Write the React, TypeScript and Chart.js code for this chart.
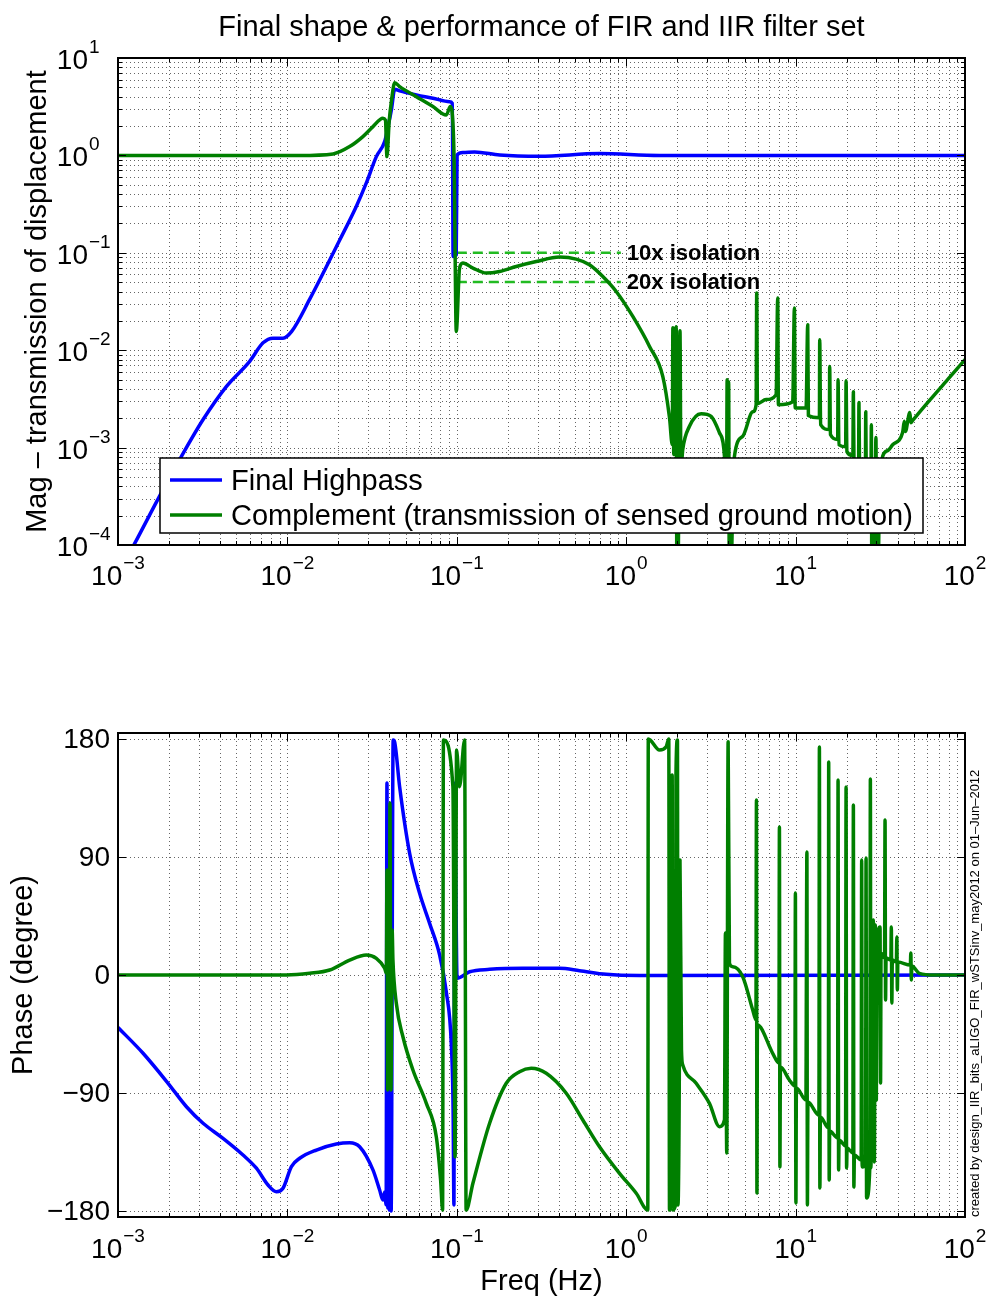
import React, { useEffect, useRef } from 'react';
import { Chart, registerables } from 'chart.js';

Chart.register(...registerables);

const FONT = '"Liberation Sans", Arial, Helvetica, sans-serif';

// ---------- Axis definitions ----------
const xDecades = [-3, -2, -1, 0, 1, 2];
const magDecades = [-4, -3, -2, -1, 0, 1];
const phaseTicks = [-180, -90, 0, 90, 180];
const phaseTickLabels = ['\u2212180', '\u221290', '0', '90', '180'];

// ---------- Magnitude: Final Highpass ----------
const hpMagFreq = [0.001, 0.00126, 0.00176, 0.00237, 0.00318, 0.00437, 0.00599, 0.00718, 0.00822, 0.00942, 0.0106, 0.0135, 0.0204, 0.0255, 0.0292, 0.0335, 0.0375, 0.0391, 0.0411, 0.043, 0.046, 0.0577, 0.0723, 0.0907, 0.0941, 0.0951, 0.0992, 0.1004, 0.1086, 0.1274, 0.179, 0.308, 0.696, 1.57, 100];
const hpMagVal = [5.0e-5, 1.05e-4, 3.17e-4, 8.14e-4, 1.94e-3, 4.25e-3, 7.68e-3, 1.19e-2, 1.33e-2, 1.33e-2, 1.56e-2, 3.3e-2, 0.136, 0.299, 0.519, 0.972, 1.385, 1.91, 2.93, 4.78, 4.59, 4.17, 3.86, 3.56, 3.43, 0.0917, 0.095, 1.01, 1.068, 1.086, 1.01, 0.98, 1.045, 1.0, 1.0];

// ---------- Magnitude: Complement ----------
const compMagFreq = [0.001, 0.0118, 0.0186, 0.0233, 0.0279, 0.032, 0.0366, 0.0379, 0.0387, 0.0399, 0.0412, 0.043, 0.046, 0.0577, 0.0723, 0.0867, 0.0916, 0.0938, 0.0964, 0.0993, 0.1038, 0.1086, 0.1245, 0.1493, 0.1789, 0.2244, 0.2944, 0.4042, 0.5069, 0.6074, 0.7278, 0.873, 1.094, 1.373, 1.644, 1.801, 1.871, 1.886, 1.909, 1.959, 1.975, 1.994, 2.049, 2.077, 2.105, 2.157, 2.363, 2.77, 3.173, 3.551, 3.802, 3.906, 3.944, 3.976, 4.025, 4.069, 4.238, 4.355, 4.875, 5.584, 5.848, 5.895, 5.951, 6.698, 7.674, 7.842, 7.916, 9.614, 9.838, 9.946, 11.53, 11.79, 11.9, 13.82, 13.88, 14.05, 15.83, 15.89, 16.05, 17.72, 17.81, 18.01, 19.75, 19.86, 20.08, 21.78, 21.93, 22.11, 23.54, 23.66, 23.86, 25.81, 25.95, 26.17, 27.81, 28.0, 28.23, 29.16, 29.8, 30.17, 31.2, 32.66, 34.95, 37.41, 42.83, 43.84, 44.44, 47.24, 47.89, 49.0, 61.56, 80.81, 100];
const compMagVal = [1.0, 1.0, 1.036, 1.231, 1.559, 1.974, 2.407, 2.312, 0.972, 2.258, 3.71, 5.58, 5.08, 4.01, 3.17, 2.6, 3.17, 2.79, 0.899, 0.0156, 0.0697, 0.0784, 0.0697, 0.0619, 0.0643, 0.0724, 0.0814, 0.0904, 0.0862, 0.0753, 0.0571, 0.0401, 0.0222, 0.01094, 0.00538, 0.00203, 0.00107, 0.017, 0.00085, 0.0162, 0.0174, 1e-5, 4.7e-4, 0.0158, 5.94e-4, 9.54e-4, 1.654e-3, 2.23e-3, 2.09e-3, 1.42e-3, 8.15e-4, 1.83e-4, 4.98e-3, 1.83e-4, 4.75e-3, 1e-5, 1.83e-4, 8.15e-4, 1.306e-3, 2.33e-3, 2.76e-3, 0.0386, 2.82e-3, 3.11e-3, 3.5e-3, 0.0343, 2.76e-3, 2.96e-3, 0.0271, 2.55e-3, 2.55e-3, 0.0183, 2.13e-3, 2.02e-3, 0.0128, 1.72e-3, 1.53e-3, 6.82e-3, 1.36e-3, 1.21e-3, 4.98e-3, 1.07e-3, 1.02e-3, 4.86e-3, 9.1e-4, 8.3e-4, 3.75e-3, 7.5e-4, 6.7e-4, 2.9e-3, 5.9e-4, 4.7e-4, 2.34e-3, 3.7e-4, 2.93e-4, 1.72e-3, 1e-5, 1e-5, 1.27e-3, 1e-5, 2.31e-4, 8.15e-4, 9.3e-4, 1.07e-3, 1.43e-3, 1.86e-3, 1.46e-3, 2.29e-3, 1.8e-3, 1.89e-3, 3.03e-3, 5.22e-3, 8.0e-3];

// ---------- Isolation reference lines ----------
const isoFreq = [0.1, 0.93];
const iso10Val = [0.1, 0.1];
const iso20Val = [0.05, 0.05];
const isoLabels = ['10x isolation', '20x isolation'];

// ---------- Phase: Final Highpass ----------
const hpPhaseFreq = [0.001, 0.001406, 0.001975, 0.002536, 0.003177, 0.004169, 0.00547, 0.006563, 0.007686, 0.008612, 0.009419, 0.01056, 0.01182, 0.01483, 0.01945, 0.02332, 0.0267, 0.03199, 0.03503, 0.03664, 0.0375, 0.03828, 0.0387, 0.03917, 0.0396, 0.03999, 0.04042, 0.04097, 0.0421, 0.04295, 0.04598, 0.05267, 0.06033, 0.06911, 0.07916, 0.0867, 0.09283, 0.09511, 0.09617, 0.09705, 0.1004, 0.119, 0.1562, 0.2455, 0.4042, 0.5303, 0.7621, 1.198, 100];
const hpPhaseVal = [-40, -59.7, -82.6, -100.5, -113.1, -124.6, -137.3, -147.4, -160.2, -165.3, -162.7, -146.2, -139.8, -133.5, -128.9, -127.9, -131, -148.7, -164, -171.6, -165.5, -175.4, 146.5, -177.7, -87.7, -179.3, -95.3, -180, 179.2, 177.7, 143.6, 92.8, 62.3, 39.4, 15.3, -13, -53.4, -103, -175.4, 146.2, -2.5, 2.5, 4.3, 5.1, 5.1, 3.3, 0.5, -0.4, 0];

// ---------- Phase: Complement ----------
const compPhaseFreq = [0.001, 0.00986, 0.01354, 0.01777, 0.02332, 0.02926, 0.0335, 0.0375, 0.03839, 0.0387, 0.03906, 0.0396, 0.03999, 0.04031, 0.04086, 0.04153, 0.04198, 0.04395, 0.04808, 0.05508, 0.06609, 0.07568, 0.08025, 0.08245, 0.08337, 0.09485, 0.09772, 0.0997, 0.1038, 0.1112, 0.1135, 0.1245, 0.1562, 0.1959, 0.2347, 0.2751, 0.3373, 0.4426, 0.5546, 0.6957, 0.9131, 1.146, 1.341, 1.35, 1.572, 1.722, 1.784, 1.801, 1.868, 1.883, 1.954, 1.967, 2.007, 2.021, 2.063, 2.077, 2.12, 2.157, 2.588, 3.1, 3.551, 3.802, 3.853, 3.922, 3.997, 4.069, 4.256, 4.875, 5.584, 5.833, 5.873, 5.913, 5.951, 7.326, 7.971, 8.025, 8.08, 8.135, 9.192, 9.906, 9.973, 10.04, 10.11, 11.5, 11.66, 11.74, 11.82, 13.73, 13.82, 13.91, 14.0, 15.62, 15.68, 15.79, 15.89, 17.7, 17.81, 17.94, 18.06, 19.72, 19.86, 20.0, 20.13, 21.78, 21.93, 22.08, 22.24, 24.38, 24.55, 24.71, 25.88, 26.06, 26.24, 27.44, 27.63, 27.81, 28.77, 29.16, 29.56, 29.96, 30.25, 31.51, 31.73, 31.95, 33.5, 33.73, 33.96, 34.2, 36.49, 36.74, 36.99, 37.24, 39.33, 39.6, 39.87, 40.14, 47.57, 47.89, 48.22, 48.55, 53.77, 66.0, 100];
const compPhaseVal = [0, 0, 1.3, 3.8, 11.4, 15.3, 12.7, 5.1, 1.3, 80, -87.7, 72.5, -83.9, 131.2, -87.7, 34.3, 11.4, -21.6, -47.1, -72.5, -97.9, -123.3, -156.4, -179.3, 179.3, 143.6, -138.8, 171.6, 143.6, 179.3, -179.3, -158.9, -113.1, -82.6, -73.8, -71.2, -75, -90.2, -110.6, -131, -151.3, -166.5, -179.3, 180, 171.6, 174.1, 180, -179.3, 152.6, -179.3, -175.4, 152.6, 179.3, -175.4, -49.6, 87.7, -57.2, -68.6, -82.6, -97.9, -115.7, -110.6, 32, -135.8, 178, 8.9, 6.3, -1.3, -26.7, -34.3, 133.5, -166.3, -38.1, -59.7, -67.1, 112.9, -146.5, -70.2, -80.1, -84.7, 62.5, -173.9, -86.2, -95.3, 93.8, -175.4, -96.9, -106.8, 173.9, -162.5, -108.3, -116.7, 162.5, -156.4, -119, -124.3, 148.7, -148.7, -125.9, -130.4, 143.4, -147.2, -132, -135.8, 129.7, -161.7, -137.3, -141.1, 87.7, -146.5, -144.9, 89.2, -170.1, -145.7, 149.5, -147.2, 42, -142.6, 38.1, -95.3, 19.1, 36.6, -82.4, 16.8, 13, 118.2, -19.1, 13, 11.4, 36.6, -21.4, 11.4, 9.9, 29, -11.4, 9.9, 7.6, 16.8, -3.8, 6.9, 1.3, 0, 0];

// ---------- Texts ----------
const titleText = 'Final shape & performance of FIR and IIR filter set';
const magAxisTitle = 'Mag \u2013 transmission of displacement';
const phaseAxisTitle = 'Phase (degree)';
const freqAxisTitle = 'Freq (Hz)';
const legendLabels = ['Final Highpass', 'Complement (transmission of sensed ground motion)'];
const creditText = 'created by design_IIR_bits_aLIGO_FIR_wSTSinv_may2012 on 01\u2013Jun\u20132012';

const BLUE = '#0000ff';
const GREEN = '#007f00';
const LIGHT_GREEN = '#22bb22';
const GRID_COLOR = 'rgba(0,0,0,0.6)';

const pts = (fs: number[], vs: number[]) => fs.map((f, i) => ({ x: f, y: vs[i] }));

function logTickList(decs: number[]) {
  const out: { v: number; major: boolean }[] = [];
  for (let i = 0; i < decs.length - 1; i++) {
    for (let m = 1; m < 10; m++) out.push({ v: m * Math.pow(10, decs[i]), major: m === 1 });
  }
  out.push({ v: Math.pow(10, decs[decs.length - 1]), major: true });
  return out;
}

const expStr = (e: number) => (e < 0 ? '\u2212' + String(-e) : String(e));

function drawGrid(ctx: CanvasRenderingContext2D, a: any, xs: any, ys: any, xv: number[], yv: number[]) {
  ctx.save();
  ctx.strokeStyle = GRID_COLOR;
  ctx.lineWidth = 1;
  ctx.setLineDash([1, 3]);
  for (const v of xv) {
    const p = Math.round(xs.getPixelForValue(v)) + 0.5;
    if (p <= a.left + 1 || p >= a.right - 1) continue;
    ctx.beginPath();
    ctx.moveTo(p, a.top);
    ctx.lineTo(p, a.bottom);
    ctx.stroke();
  }
  for (const v of yv) {
    const p = Math.round(ys.getPixelForValue(v)) + 0.5;
    if (p <= a.top + 1 || p >= a.bottom - 1) continue;
    ctx.beginPath();
    ctx.moveTo(a.left, p);
    ctx.lineTo(a.right, p);
    ctx.stroke();
  }
  ctx.restore();
}

function drawTicksAndBox(ctx: CanvasRenderingContext2D, a: any, xs: any, ys: any, xt: { v: number; major: boolean }[], yt: { v: number; major: boolean }[]) {
  ctx.save();
  ctx.strokeStyle = '#000';
  ctx.lineWidth = 1;
  ctx.beginPath();
  for (const t of xt) {
    const p = Math.round(xs.getPixelForValue(t.v)) + 0.5;
    const L = t.major ? 8 : 4;
    ctx.moveTo(p, a.bottom);
    ctx.lineTo(p, a.bottom - L);
    ctx.moveTo(p, a.top);
    ctx.lineTo(p, a.top + L);
  }
  for (const t of yt) {
    const p = Math.round(ys.getPixelForValue(t.v)) + 0.5;
    const L = t.major ? 8 : 4;
    ctx.moveTo(a.left, p);
    ctx.lineTo(a.left + L, p);
    ctx.moveTo(a.right, p);
    ctx.lineTo(a.right - L, p);
  }
  ctx.stroke();
  ctx.lineWidth = 2;
  ctx.strokeRect(a.left, a.top, a.right - a.left, a.bottom - a.top);
  ctx.restore();
}

function drawXPowLabels(ctx: CanvasRenderingContext2D, a: any, xs: any, baseY: number) {
  ctx.save();
  ctx.fillStyle = '#000';
  ctx.textBaseline = 'alphabetic';
  ctx.textAlign = 'left';
  for (const e of xDecades) {
    const px = xs.getPixelForValue(Math.pow(10, e));
    ctx.font = `28px ${FONT}`;
    const w10 = ctx.measureText('10').width;
    ctx.font = `19px ${FONT}`;
    const we = ctx.measureText(expStr(e)).width;
    const x0 = px - (w10 + 1 + we) / 2;
    ctx.font = `28px ${FONT}`;
    ctx.fillText('10', x0, baseY);
    ctx.font = `19px ${FONT}`;
    ctx.fillText(expStr(e), x0 + w10 + 1, baseY - 16);
  }
  ctx.restore();
}

function makeTopPlugin() {
  const xt = logTickList(xDecades);
  const yt = logTickList(magDecades);
  return {
    id: 'topDecor',
    beforeDatasetsDraw(chart: any) {
      const { ctx, chartArea: a, scales } = chart;
      drawGrid(ctx, a, scales.x, scales.y, xt.map((t) => t.v), yt.map((t) => t.v));
    },
    afterDatasetsDraw(chart: any) {
      const { ctx, chartArea: a, scales } = chart;
      const xs = scales.x;
      const ys = scales.y;
      drawTicksAndBox(ctx, a, xs, ys, xt, yt);

      ctx.save();
      ctx.fillStyle = '#000';
      // isolation annotations
      ctx.font = `bold 22px ${FONT}`;
      ctx.textAlign = 'left';
      ctx.textBaseline = 'middle';
      const ax = xs.getPixelForValue(isoFreq[1]) + 6;
      ctx.fillText(isoLabels[0], ax, ys.getPixelForValue(iso10Val[0]) + 1);
      ctx.fillText(isoLabels[1], ax, ys.getPixelForValue(iso20Val[0]) + 1);

      // x tick labels
      drawXPowLabels(ctx, a, xs, a.bottom + 40);

      // y tick labels
      ctx.textBaseline = 'alphabetic';
      for (const e of magDecades) {
        const py = ys.getPixelForValue(Math.pow(10, e));
        ctx.font = `28px ${FONT}`;
        ctx.textAlign = 'right';
        ctx.fillText('10', a.left - 30, py + 11);
        ctx.font = `19px ${FONT}`;
        ctx.textAlign = 'left';
        ctx.fillText(expStr(e), a.left - 29, py - 5);
      }

      // title
      ctx.font = `29px ${FONT}`;
      ctx.textAlign = 'center';
      ctx.fillText(titleText, (a.left + a.right) / 2, 36);

      // y axis title
      ctx.save();
      ctx.translate(46, (a.top + a.bottom) / 2);
      ctx.rotate(-Math.PI / 2);
      ctx.font = `29px ${FONT}`;
      ctx.textAlign = 'center';
      ctx.fillText(magAxisTitle, 0, 0);
      ctx.restore();

      // legend
      const lx = 160, ly = 458, lw = 763, lh = 75;
      ctx.fillStyle = '#fff';
      ctx.fillRect(lx, ly, lw, lh);
      ctx.strokeStyle = '#000';
      ctx.lineWidth = 1.5;
      ctx.strokeRect(lx, ly, lw, lh);
      const rows = [ly + 22, ly + 57];
      const cols = [BLUE, GREEN];
      for (let i = 0; i < 2; i++) {
        ctx.strokeStyle = cols[i];
        ctx.lineWidth = 3.5;
        ctx.beginPath();
        ctx.moveTo(lx + 10, rows[i]);
        ctx.lineTo(lx + 62, rows[i]);
        ctx.stroke();
        ctx.fillStyle = '#000';
        ctx.font = `29px ${FONT}`;
        ctx.textAlign = 'left';
        ctx.textBaseline = 'alphabetic';
        ctx.fillText(legendLabels[i], lx + 71, rows[i] + 10);
      }
      ctx.restore();
    },
  };
}

function makeBottomPlugin() {
  const xt = logTickList(xDecades);
  const yt = phaseTicks.map((v) => ({ v, major: true }));
  return {
    id: 'bottomDecor',
    beforeDatasetsDraw(chart: any) {
      const { ctx, chartArea: a, scales } = chart;
      drawGrid(ctx, a, scales.x, scales.y, xt.map((t) => t.v), phaseTicks);
    },
    afterDatasetsDraw(chart: any) {
      const { ctx, chartArea: a, scales } = chart;
      const xs = scales.x;
      const ys = scales.y;
      drawTicksAndBox(ctx, a, xs, ys, xt, yt);
      ctx.save();
      ctx.fillStyle = '#000';
      drawXPowLabels(ctx, a, xs, a.bottom + 41);

      ctx.font = `28px ${FONT}`;
      ctx.textAlign = 'right';
      ctx.textBaseline = 'middle';
      phaseTicks.forEach((v, i) => {
        ctx.fillText(phaseTickLabels[i], a.left - 8, ys.getPixelForValue(v) + 1);
      });

      ctx.textAlign = 'center';
      ctx.textBaseline = 'alphabetic';
      ctx.font = `29px ${FONT}`;
      ctx.fillText(freqAxisTitle, (a.left + a.right) / 2, 670);

      ctx.save();
      ctx.translate(32, (a.top + a.bottom) / 2);
      ctx.rotate(-Math.PI / 2);
      ctx.textAlign = 'center';
      ctx.fillText(phaseAxisTitle, 0, 0);
      ctx.restore();

      ctx.save();
      ctx.translate(979, a.bottom);
      ctx.rotate(-Math.PI / 2);
      ctx.font = `13px ${FONT}`;
      ctx.textAlign = 'left';
      ctx.fillText(creditText, 0, 0);
      ctx.restore();
      ctx.restore();
    },
  };
}

const lineDs = (label: string, data: any[], color: string, order: number, extra: any = {}) => ({
  label,
  data,
  borderColor: color,
  backgroundColor: color,
  borderWidth: 3.5,
  pointRadius: 0,
  pointHoverRadius: 0,
  cubicInterpolationMode: 'monotone',
  fill: false,
  order,
  clip: 0,
  borderJoinStyle: 'round',
  borderCapStyle: 'round',
  ...extra,
});

function topConfig(): any {
  return {
    type: 'line',
    data: {
      datasets: [
        lineDs(legendLabels[1], pts(compMagFreq, compMagVal), GREEN, 0),
        lineDs(legendLabels[0], pts(hpMagFreq, hpMagVal), BLUE, 1),
        lineDs(isoLabels[0], pts(isoFreq, iso10Val), LIGHT_GREEN, 2, { borderDash: [10, 6], borderWidth: 2.5, borderCapStyle: 'butt', cubicInterpolationMode: 'default', tension: 0 }),
        lineDs(isoLabels[1], pts(isoFreq, iso20Val), LIGHT_GREEN, 2, { borderDash: [10, 6], borderWidth: 2.5, borderCapStyle: 'butt', cubicInterpolationMode: 'default', tension: 0 }),
      ],
    },
    options: {
      responsive: false,
      animation: false,
      devicePixelRatio: 1,
      layout: { padding: { left: 118, right: 27, top: 58, bottom: 75 } },
      plugins: { legend: { display: false }, tooltip: { enabled: false }, title: { display: false } },
      events: [],
      scales: {
        x: { type: 'logarithmic', min: 1e-3, max: 1e2, display: false },
        y: { type: 'logarithmic', min: 1e-4, max: 1e1, display: false },
      },
    },
    plugins: [makeTopPlugin()],
  };
}

function bottomConfig(): any {
  return {
    type: 'line',
    data: {
      datasets: [
        lineDs(legendLabels[1], pts(compPhaseFreq, compPhaseVal), GREEN, 0),
        lineDs(legendLabels[0], pts(hpPhaseFreq, hpPhaseVal), BLUE, 1),
      ],
    },
    options: {
      responsive: false,
      animation: false,
      devicePixelRatio: 1,
      layout: { padding: { left: 118, right: 27, top: 113, bottom: 83 } },
      plugins: { legend: { display: false }, tooltip: { enabled: false }, title: { display: false } },
      events: [],
      scales: {
        x: { type: 'logarithmic', min: 1e-3, max: 1e2, display: false },
        y: { type: 'linear', min: -184.6, max: 184.6, display: false },
      },
    },
    plugins: [makeBottomPlugin()],
  };
}

export default function App() {
  const topRef = useRef<HTMLCanvasElement>(null);
  const botRef = useRef<HTMLCanvasElement>(null);
  useEffect(() => {
    const top = new Chart(topRef.current as HTMLCanvasElement, topConfig());
    const bot = new Chart(botRef.current as HTMLCanvasElement, bottomConfig());
    return () => {
      top.destroy();
      bot.destroy();
    };
  }, []);
  return (
    <div style={{ position: 'absolute', left: 0, top: 0, width: 992, height: 1300, background: '#fff' }}>
      <canvas ref={topRef} width={992} height={620} style={{ position: 'absolute', left: 0, top: 0, width: 992, height: 620 }} />
      <canvas ref={botRef} width={992} height={680} style={{ position: 'absolute', left: 0, top: 620, width: 992, height: 680 }} />
    </div>
  );
}
